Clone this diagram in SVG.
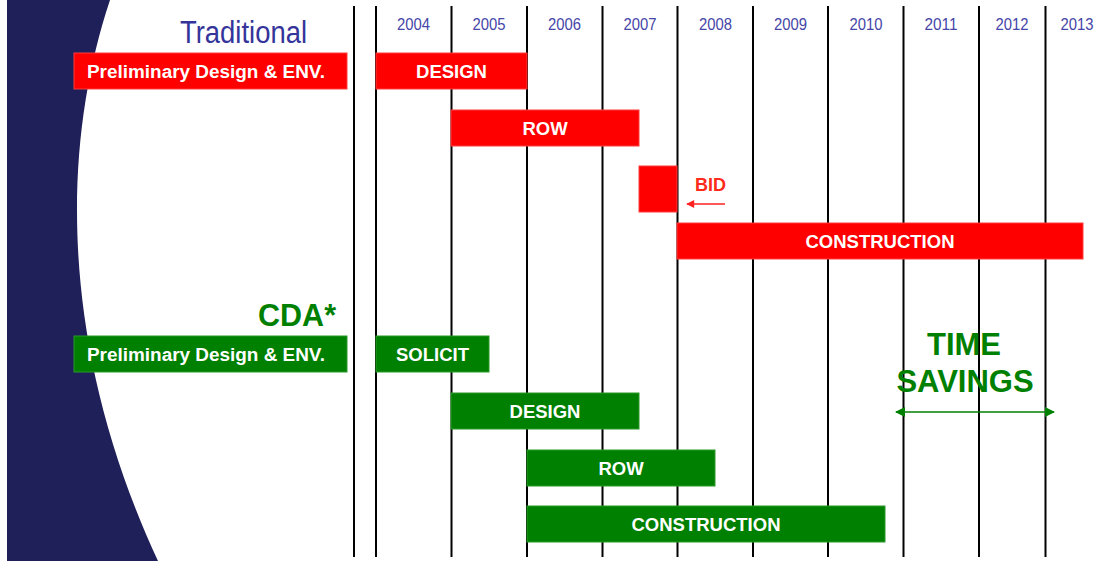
<svg xmlns="http://www.w3.org/2000/svg" width="1109" height="561" viewBox="0 0 1109 561">
<defs>
<style>
.bg{fill:#ffffff}
.navy{fill:#1f1f5a}
.grid{stroke:#000;stroke-width:2}
.red{fill:#ff0000;stroke:#ff3a3a;stroke-width:1}
.green{fill:#008000;stroke:#2a9a2a;stroke-width:1}
.bt{font-family:"Liberation Sans",Arial,sans-serif;font-weight:bold;font-size:18.5px;fill:#ffffff;text-anchor:middle}
.pt{font-family:"Liberation Sans",Arial,sans-serif;font-weight:bold;font-size:18.8px;fill:#ffffff}
.yr{font-family:"Liberation Sans",Arial,sans-serif;font-size:17px;fill:#4646a8;text-anchor:middle}
.gt{font-family:"Liberation Sans",Arial,sans-serif;font-weight:bold;fill:#008000}
</style>
<marker id="ar" viewBox="0 0 10 10" refX="9" refY="5" markerWidth="9" markerHeight="8" orient="auto-start-reverse" markerUnits="userSpaceOnUse">
<path d="M0,0 L10,5 L0,10 Z" fill="#ff2020"/>
</marker>
<marker id="ag" viewBox="0 0 10 10" refX="9" refY="5" markerWidth="10" markerHeight="10" orient="auto-start-reverse" markerUnits="userSpaceOnUse">
<path d="M0,0 L10,5 L0,10 Z" fill="#008000"/>
</marker>
</defs>
<rect class="bg" x="0" y="0" width="1109" height="561"/>
<path class="navy" d="M7,0 L110,0 C60,150 60,350 158,561 L7,561 Z"/>

<g id="grid">
<line class="grid" x1="354" y1="6" x2="354" y2="557"/>
<line class="grid" x1="376" y1="6" x2="376" y2="557"/>
<line class="grid" x1="451.5" y1="6" x2="451.5" y2="557"/>
<line class="grid" x1="527" y1="6" x2="527" y2="557"/>
<line class="grid" x1="602.5" y1="6" x2="602.5" y2="557"/>
<line class="grid" x1="677.5" y1="6" x2="677.5" y2="557"/>
<line class="grid" x1="753" y1="6" x2="753" y2="557"/>
<line class="grid" x1="828" y1="6" x2="828" y2="557"/>
<line class="grid" x1="903.5" y1="6" x2="903.5" y2="557"/>
<line class="grid" x1="979" y1="6" x2="979" y2="557"/>
<line class="grid" x1="1045.5" y1="6" x2="1045.5" y2="557"/>
</g>

<g id="years">
<text class="yr" x="413.5" y="30" textLength="33" lengthAdjust="spacingAndGlyphs">2004</text>
<text class="yr" x="489" y="30" textLength="33" lengthAdjust="spacingAndGlyphs">2005</text>
<text class="yr" x="564.5" y="30" textLength="33" lengthAdjust="spacingAndGlyphs">2006</text>
<text class="yr" x="640" y="30" textLength="33" lengthAdjust="spacingAndGlyphs">2007</text>
<text class="yr" x="715.5" y="30" textLength="33" lengthAdjust="spacingAndGlyphs">2008</text>
<text class="yr" x="790.5" y="30" textLength="33" lengthAdjust="spacingAndGlyphs">2009</text>
<text class="yr" x="866" y="30" textLength="33" lengthAdjust="spacingAndGlyphs">2010</text>
<text class="yr" x="941" y="30" textLength="33" lengthAdjust="spacingAndGlyphs">2011</text>
<text class="yr" x="1012" y="30" textLength="33" lengthAdjust="spacingAndGlyphs">2012</text>
<text class="yr" x="1077" y="30" textLength="33" lengthAdjust="spacingAndGlyphs">2013</text>
</g>

<text id="title-traditional" x="180" y="43" font-family="'Liberation Sans',Arial,sans-serif" font-size="31" fill="#34349a" textLength="127" lengthAdjust="spacingAndGlyphs">Traditional</text>
<text id="title-cda" class="gt" x="336" y="326" font-size="30.5" text-anchor="end">CDA*</text>

<g id="trad-prelim"><rect class="red" x="74" y="53" width="273" height="36"/><text class="pt" x="87" y="77.5" textLength="238" lengthAdjust="spacingAndGlyphs">Preliminary Design &amp; ENV.</text></g>
<g id="trad-design"><rect class="red" x="376" y="53" width="151" height="36"/><text class="bt" x="451.5" y="77.5">DESIGN</text></g>
<g id="trad-row"><rect class="red" x="451" y="110" width="188" height="36"/><text class="bt" x="545" y="134.5">ROW</text></g>
<g id="trad-bid"><rect class="red" x="639" y="166" width="38" height="46"/><text x="695" y="191" font-family="'Liberation Sans',Arial,sans-serif" font-weight="bold" font-size="18" fill="#ff2a1a">BID</text></g>
<g id="trad-construction"><rect class="red" x="677" y="223" width="406" height="36"/><text class="bt" x="880" y="247.5">CONSTRUCTION</text></g>

<g id="cda-prelim"><rect class="green" x="74" y="336" width="273" height="36"/><text class="pt" x="87" y="360.5" textLength="238" lengthAdjust="spacingAndGlyphs">Preliminary Design &amp; ENV.</text></g>
<g id="cda-solicit"><rect class="green" x="376" y="336" width="113" height="36"/><text class="bt" x="432.5" y="360.5">SOLICIT</text></g>
<g id="cda-design"><rect class="green" x="451" y="393" width="188" height="36"/><text class="bt" x="545" y="417.5">DESIGN</text></g>
<g id="cda-row"><rect class="green" x="527" y="450" width="188" height="36"/><text class="bt" x="621" y="474.5">ROW</text></g>
<g id="cda-construction"><rect class="green" x="527" y="506" width="358" height="36"/><text class="bt" x="706" y="530.5">CONSTRUCTION</text></g>

<g id="time-savings">
<text class="gt" x="964" y="355" font-size="31" text-anchor="middle">TIME</text>
<text class="gt" x="965" y="392" font-size="31" text-anchor="middle">SAVINGS</text>
</g>

<g id="connectors">
<line x1="725" y1="204" x2="687" y2="204" stroke="#ff2020" stroke-width="1.5" marker-end="url(#ar)"/>
<line x1="896" y1="412" x2="1054" y2="412" stroke="#008000" stroke-width="1.5" marker-start="url(#ag)" marker-end="url(#ag)"/>
</g>
</svg>
